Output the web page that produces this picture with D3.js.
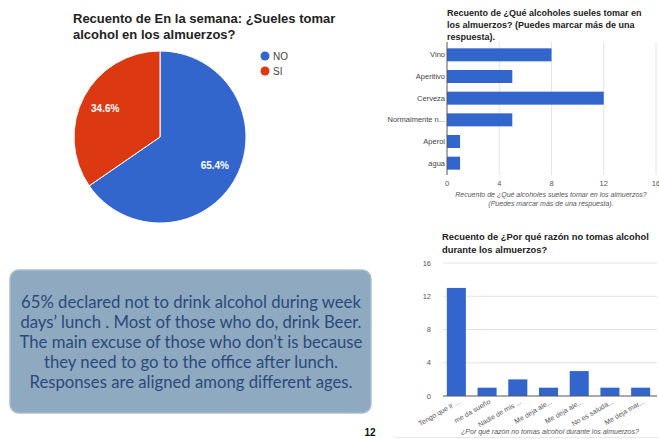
<!DOCTYPE html>
<html><head><meta charset="utf-8">
<script src="https://cdn.jsdelivr.net/npm/d3@7"></script>
<style>html,body{margin:0;padding:0;background:#fff;}svg{display:block;}</style>
</head><body>
<svg id="c" width="659" height="439"></svg>
<script>
// Pie data
const pieCategories = ["NO", "SI"];
const pieValues = [65.4, 34.6];
const pieColors = ["#3366cc", "#dc3912"];

// Horizontal bar chart: which alcohols
const drinkCategories = ["Vino", "Aperitivo", "Cerveza", "Normalmente n...", "Aperol", "agua"];
const drinkValues = [8, 5, 12, 5, 1, 1];
const drinkTicks = [0, 4, 8, 12, 16];

// Vertical bar chart: reasons
const reasonCategories = ["Tengo que ir ...", "me da sueño", "Nadie de mis ...", "Me deja ale...", "Me deja ale... ", "No es saluda...", "Me deja mar..."];
const reasonValues = [13, 1, 2, 1, 3, 1, 1];
const reasonTicks = [0, 4, 8, 12, 16];

const noteLines = [
  "65% declared not to drink alcohol during week",
  "days\u2019 lunch . Most of those who do, drink Beer.",
  "The main excuse of those who don\u2019t is because",
  "they need to go to the office after lunch.",
  "Responses are aligned  among different ages."
];

const svg = d3.select("#c");
const F = "Liberation Sans, Arial, sans-serif";

// ---------- Pie ----------
const pTitle = svg.append("text").attr("font-family", F).attr("font-weight", "bold")
  .attr("font-size", 13).attr("fill", "#222");
pTitle.append("tspan").attr("x", 73).attr("y", 23).text("Recuento de En la semana: ¿Sueles tomar");
pTitle.append("tspan").attr("x", 73).attr("y", 39).text("alcohol en los almuerzos?");

const R = 86;
const pg = svg.append("g").attr("transform", "translate(160,137)");
const pie = d3.pie().sort(null).value(d => d)(pieValues);
const arc = d3.arc().innerRadius(0).outerRadius(R);
const labelArc = d3.arc().innerRadius(R * 0.72).outerRadius(R * 0.72);
pg.selectAll("path").data(pie).join("path")
  .attr("d", arc).attr("fill", (d, i) => pieColors[i])
  .attr("stroke", "#fff").attr("stroke-width", 1);
pg.selectAll("text").data(pie).join("text")
  .attr("transform", d => `translate(${labelArc.centroid(d)})`)
  .attr("text-anchor", "middle").attr("dy", "0.35em")
  .attr("font-family", F).attr("font-size", 10).attr("font-weight", "bold")
  .attr("fill", "#fff").text(d => d.data.toFixed(1) + "%");

const lg = svg.append("g");
pieCategories.forEach((c, i) => {
  lg.append("circle").attr("cx", 265).attr("cy", 56 + i * 15).attr("r", 4.5).attr("fill", pieColors[i]);
  lg.append("text").attr("x", 273).attr("y", 56 + i * 15).attr("dy", "0.35em")
    .attr("font-family", F).attr("font-size", 10).attr("fill", "#444").text(c);
});

// ---------- Horizontal bars ----------
const hTitle = svg.append("text").attr("font-family", F).attr("font-weight", "bold")
  .attr("font-size", 9).attr("fill", "#222");
["Recuento de ¿Qué alcoholes sueles tomar en", "los almuerzos? (Puedes marcar más de una", "respuesta)."]
  .forEach((t, i) => hTitle.append("tspan").attr("x", 447).attr("y", 16 + i * 12).text(t));

const hx = d3.scaleLinear().domain([0, 16]).range([447, 656]);
const hy = d3.scaleBand().domain(drinkCategories).range([44, 174]).paddingInner(0.4).paddingOuter(0.2);
const hg = svg.append("g");
hg.selectAll("line.grid").data(drinkTicks.slice(1)).join("line")
  .attr("x1", d => hx(d)).attr("x2", d => hx(d)).attr("y1", 42).attr("y2", 175)
  .attr("stroke", "#e4e4e4").attr("stroke-width", 1);
hg.selectAll("rect").data(drinkValues).join("rect")
  .attr("x", hx(0)).attr("y", (d, i) => hy(drinkCategories[i]))
  .attr("width", d => hx(d) - hx(0)).attr("height", hy.bandwidth()).attr("fill", "#3366cc");
hg.append("line").attr("x1", hx(0)).attr("x2", hx(0)).attr("y1", 42).attr("y2", 175).attr("stroke", "#555");
hg.selectAll("text.cat").data(drinkCategories).join("text")
  .attr("x", 445).attr("y", d => hy(d) + hy.bandwidth() / 2).attr("dy", "0.35em")
  .attr("text-anchor", "end").attr("font-family", F).attr("font-size", 7.5).attr("fill", "#444").text(d => d);
hg.selectAll("text.tick").data(drinkTicks).join("text")
  .attr("x", d => hx(d)).attr("y", 186).attr("text-anchor", "middle")
  .attr("font-family", F).attr("font-size", 7.5).attr("fill", "#555").text(d => d);
const hxt = hg.append("text").attr("font-family", F).attr("font-style", "italic")
  .attr("font-size", 7).attr("fill", "#555").attr("text-anchor", "middle");
hxt.append("tspan").attr("x", 551).attr("y", 197).text("Recuento de ¿Qué alcoholes sueles tomar en los almuerzos?");
hxt.append("tspan").attr("x", 551).attr("y", 206).text("(Puedes marcar más de una respuesta).");

// ---------- Vertical bars ----------
const vTitle = svg.append("text").attr("font-family", F).attr("font-weight", "bold")
  .attr("font-size", 9.4).attr("fill", "#222");
vTitle.append("tspan").attr("x", 442).attr("y", 240).text("Recuento de ¿Por qué razón no tomas alcohol");
vTitle.append("tspan").attr("x", 442).attr("y", 253).text("durante los almuerzos?");

const vy = d3.scaleLinear().domain([0, 16]).range([396, 263]);
const vx = d3.scaleBand().domain(reasonCategories).range([441, 656]).paddingInner(0.38).paddingOuter(0.19);
const vg = svg.append("g");
vg.selectAll("line.grid").data(reasonTicks.slice(1)).join("line")
  .attr("x1", 443).attr("x2", 657).attr("y1", d => vy(d)).attr("y2", d => vy(d))
  .attr("stroke", "#e4e4e4");
vg.selectAll("rect").data(reasonValues).join("rect")
  .attr("x", (d, i) => vx(reasonCategories[i])).attr("y", d => vy(d))
  .attr("width", vx.bandwidth()).attr("height", d => vy(0) - vy(d)).attr("fill", "#3366cc");
vg.append("line").attr("x1", 443).attr("x2", 657).attr("y1", vy(0)).attr("y2", vy(0)).attr("stroke", "#555");
vg.selectAll("text.tick").data(reasonTicks).join("text")
  .attr("x", 431).attr("y", d => vy(d)).attr("dy", "0.35em").attr("text-anchor", "end")
  .attr("font-family", F).attr("font-size", 7.5).attr("fill", "#555").text(d => d);
vg.selectAll("text.cat").data(reasonCategories).join("text")
  .attr("transform", d => `translate(${vx(d) + vx.bandwidth() / 2 + 4},${403}) rotate(-30)`)
  .attr("text-anchor", "end").attr("font-family", F).attr("font-size", 7)
  .attr("fill", "#555").text(d => d.trim());
vg.append("text").attr("x", 550).attr("y", 434).attr("text-anchor", "middle")
  .attr("font-family", F).attr("font-style", "italic").attr("font-size", 7).attr("fill", "#555")
  .text("¿Por qué razón no tomas alcohol durante los almuerzos?");
vg.append("line").attr("x1", 395).attr("x2", 659).attr("y1", 437.5).attr("y2", 437.5).attr("stroke", "#e8e8e8");

// ---------- Note box ----------
const ng = svg.append("g");
ng.append("rect").attr("x", 10).attr("y", 270).attr("width", 361).attr("height", 143)
  .attr("rx", 9).attr("fill", "#8fa9c1").attr("stroke", "#a9bccf").attr("stroke-width", 1.5);
const nt = ng.append("text").attr("font-family", "Lato, 'Open Sans', sans-serif")
  .attr("font-size", 16.7).attr("fill", "#2b4a7a").attr("text-anchor", "middle");
noteLines.forEach((t, i) => nt.append("tspan").attr("x", 191).attr("y", 308 + i * 20).text(t));

svg.append("text").attr("x", 370).attr("y", 436).attr("text-anchor", "middle")
  .attr("font-family", F).attr("font-weight", "bold").attr("font-size", 10).attr("fill", "#111").text("12");
</script>
</body></html>
